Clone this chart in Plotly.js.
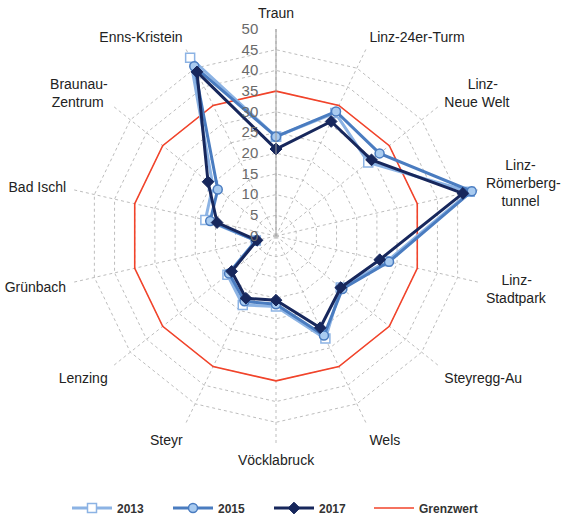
<!DOCTYPE html>
<html>
<head>
<meta charset="utf-8">
<script src="https://cdn.plot.ly/plotly-3.0.1.min.js"></script>
<style>html,body{margin:0;padding:0;background:#fff;}#chart{width:563px;height:520px;}</style>
</head>
<body>
<div id="chart"></div>
<script>
const stations = ["Traun","Linz-24er-Turm","Linz-Neue Welt","Linz-Römerbergtunnel","Linz-Stadtpark","Steyregg-Au","Wels","Vöcklabruck","Steyr","Lenzing","Grünbach","Bad Ischl","Braunau-Zentrum","Enns-Kristein"];
const stationLabels = ["Traun","Linz-24er-Turm","\u00a0\u00a0\u00a0\u00a0\u00a0\u00a0Linz-<br>Neue Welt","\u00a0\u00a0\u00a0\u00a0\u00a0Linz-<br>Römerberg-<br>\u00a0\u00a0\u00a0\u00a0tunnel","\u00a0\u00a0\u00a0\u00a0Linz-<br>Stadtpark","Steyregg-Au","Wels","Vöcklabruck","Steyr","Lenzing","Grünbach","Bad Ischl","Braunau-<br>Zentrum\u00a0","Enns-Kristein"];
const v2013 = [24, 33, 28.5, 48, 27.5, 20, 27.5, 17, 18.5, 15, 5, 17.5, 19.5, 47.8];
const v2015 = [24, 33.4, 32, 48.5, 28, 20.5, 26.7, 16.5, 17.5, 14.5, 5, 16.3, 18, 45.5];
const v2017 = [21, 30.7, 29.5, 46.3, 25.7, 20, 24.6, 15.5, 16.7, 13.7, 4.7, 14.6, 21, 44];
const grenzwert = [35, 35, 35, 35, 35, 35, 35, 35, 35, 35, 35, 35, 35, 35];
const radialTicks = [0, 5, 10, 15, 20, 25, 30, 35, 40, 45, 50];

const close = a => a.concat([a[0]]);
const theta = close(stations);

const traces = [
  {type:'scatterpolar', name:'Grenzwert', r:close(grenzwert), theta:theta, mode:'lines',
   line:{color:'#f2432a', width:1.6}, legend:'legend2'},
  {type:'scatterpolar', name:'2013', r:close(v2013), theta:theta, mode:'lines+markers',
   line:{color:'#8cb3e4', width:3},
   marker:{symbol:'square', size:9, color:'#ffffff', line:{color:'#8cb3e4', width:1.5}}},
  {type:'scatterpolar', name:'2015', r:close(v2015), theta:theta, mode:'lines+markers',
   line:{color:'#4a7cc0', width:3},
   marker:{symbol:'circle', size:9, color:'#a9cbf0', line:{color:'#4a7cc0', width:1.5}}},
  {type:'scatterpolar', name:'2017', r:close(v2017), theta:theta, mode:'lines+markers',
   line:{color:'#17275c', width:3},
   marker:{symbol:'diamond', size:9, color:'#17275c', line:{color:'#17275c', width:1}}}
];

const legendFont = {size:12, color:'#333', family:'Liberation Sans, Arial, sans-serif', weight:'bold'};

const layout = {
  width:563, height:520,
  margin:{l:0, r:0, t:0, b:0, autoexpand:false},
  paper_bgcolor:'#ffffff',
  font:{family:'Liberation Sans, Arial, sans-serif', color:'#222'},
  showlegend:true,
  legend:{orientation:'h', x:67/563, xanchor:'left', y:0.023, yanchor:'middle',
    font:legendFont, entrywidth:46, entrywidthmode:'pixels', traceorder:'normal', itemwidth:40},
  legend2:{orientation:'h', x:369/563, xanchor:'left', y:0.023, yanchor:'middle',
    font:legendFont, itemwidth:40},
  polar:{
    domain:{x:[69/563, 483/563], y:[77/520, 491/520]},
    bgcolor:'rgba(0,0,0,0)',
    gridshape:'linear',
    radialaxis:{range:[0,50], tickmode:'array', tickvals:radialTicks, angle:90,
      side:'counterclockwise', showline:true, linecolor:'#9a9a9a', linewidth:1,
      gridcolor:'#bdbdbd', griddash:'3px,3px', gridwidth:1,
      ticks:'outside', ticklen:12, tickcolor:'rgba(0,0,0,0)',
      tickfont:{size:15, color:'#6a6a6a'}, tickangle:90},
    angularaxis:{type:'category', direction:'clockwise', rotation:90,
      tickmode:'array', tickvals:stations, ticktext:stationLabels,
      showline:false, gridcolor:'#bdbdbd', griddash:'3px,3px', gridwidth:1,
      ticks:'outside', ticklen:5, tickcolor:'rgba(0,0,0,0)',
      tickfont:{size:14, color:'#222'}}
  }
};

Plotly.newPlot('chart', traces, layout, {displayModeBar:false, staticPlot:true});
</script>
</body>
</html>
